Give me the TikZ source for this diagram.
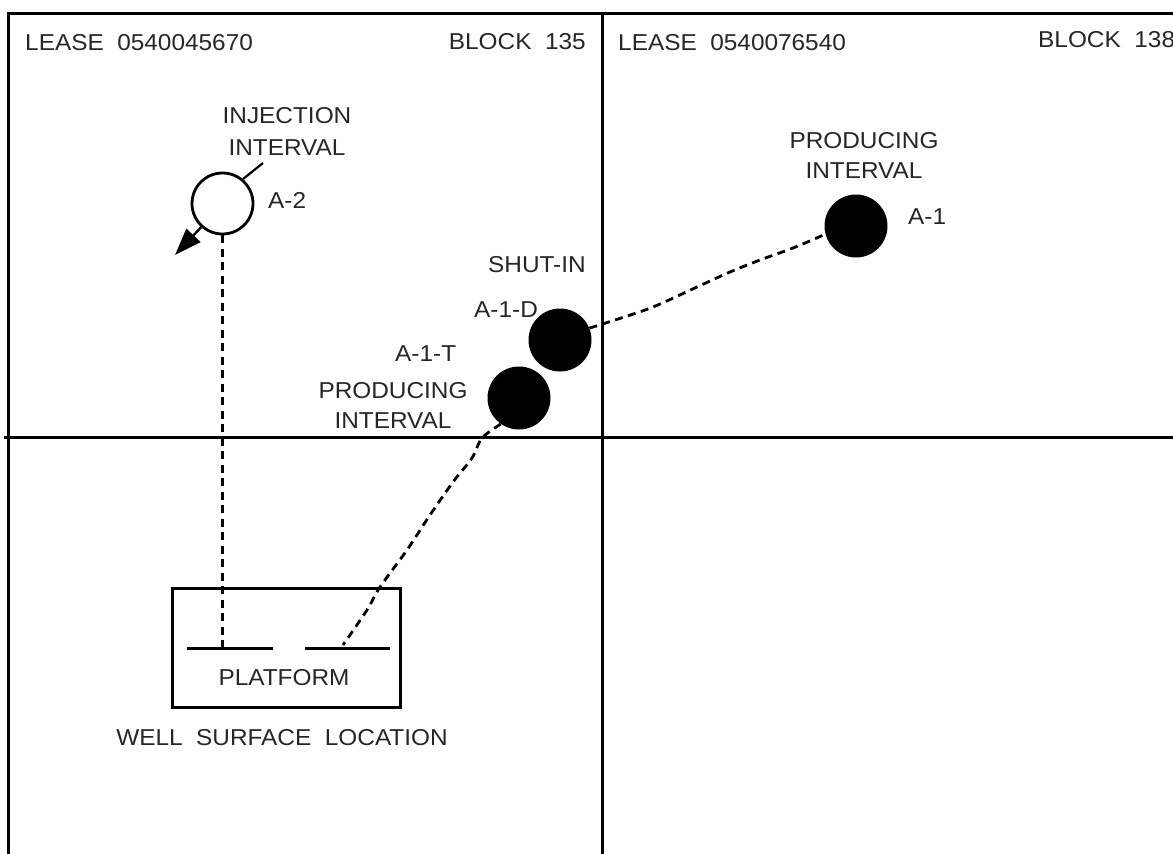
\documentclass[tikz,border=0pt]{standalone}
\usepackage{fontspec}
\setmainfont{Liberation Sans}[FakeStretch=1.06]
\usetikzlibrary{arrows.meta}
\tikzset{
  frame/.style={line width=3pt, line cap=rect},
  lbl/.style={inner sep=0pt, font=\fontsize{23}{30}\selectfont, text=black!85},
  well/.style={circle, draw=black, line width=2.8pt, minimum size=61pt, inner sep=0pt},
  wellfilled/.style={circle, fill=black, minimum size=63pt, inner sep=0pt},
  path/.style={line width=2.8pt, dash pattern=on 8pt off 5.5pt},
}
\begin{document}
\begin{tikzpicture}[x=1pt, y=-1pt]
\useasboundingbox (0,0) rectangle (1173,854);
% lease grid
\draw[frame] (8,856) -- (8,13) -- (1175,13);
\draw[frame] (602,13) -- (602,856);
\draw[frame] (5,437) -- (1175,437);
% lease / block labels
\node[lbl, anchor=base west] (l1) at (25,50) {LEASE\ \ 0540045670};
\node[lbl, anchor=base east] (b1) at (586,49) {BLOCK\ \ 135};
\node[lbl, anchor=base west] (l2) at (618,50) {LEASE\ \ 0540076540};
\node[lbl, anchor=base west] (b2) at (1038,47) {BLOCK\ \ 138};
% wells
\node[well] (A2) at (222.5,203.5) {};
\node[wellfilled] (A1) at (856,226) {};
\node[wellfilled] (A1D) at (560,340) {};
\node[wellfilled] (A1T) at (519,398) {};
% labels
\node[lbl, align=center] (inj) at (287,131) {INJECTION\\[2pt]INTERVAL};
\node[lbl, anchor=base west] (a2l) at (268,208) {A-2};
\node[lbl, align=center] (prod1) at (864,155) {PRODUCING\\INTERVAL};
\node[lbl, anchor=base west] (a1l) at (908,224) {A-1};
\node[lbl, anchor=base west] (shut) at (488,272) {SHUT-IN};
\node[lbl, anchor=base west] (a1dl) at (474,317) {A-1-D};
\node[lbl, anchor=base west] (a1tl) at (395,361) {A-1-T};
\node[lbl, align=center] (prod2) at (393,405) {PRODUCING\\INTERVAL};
% platform
\node[draw, line width=3pt, minimum width=228pt, minimum height=119pt, inner sep=0pt] (plat) at (286,647.5) {};
\coordinate (s1) at (222.5,648);
\coordinate (s2) at (343,645);
\draw[line width=3pt] (187,648) -- (273,648);
\draw[line width=3pt] (305,648) -- (390,648);
\node[lbl, anchor=base] (platl) at (284,685) {PLATFORM};
\node[lbl, anchor=base] (wsl) at (282,745) {WELL\ \ SURFACE\ \ LOCATION};
% injection leader and arrow
\coordinate (injtip) at (263,163);
\draw[line width=2.2pt] (A2.50) -- (injtip);
\coordinate (arrtip) at (175,255);
\draw[line width=2.4pt, -{Triangle[length=27pt, width=19pt]}] (A2.228) -- (arrtip);
% well paths
\draw[path] (A2.south) -- (s1);
\draw[path] plot[smooth, tension=0.5] coordinates {(A1D.22) (615,320) (653,307) (697,287) (730,272) (760,260) (793,248) (A1.195)};
\draw[path] plot[smooth, tension=0.5] coordinates {(A1T.235) (482,438) (472,458) (453,482) (430,515) (407,550) (380,587) (367,610) (s2)};
\end{tikzpicture}
\end{document}
